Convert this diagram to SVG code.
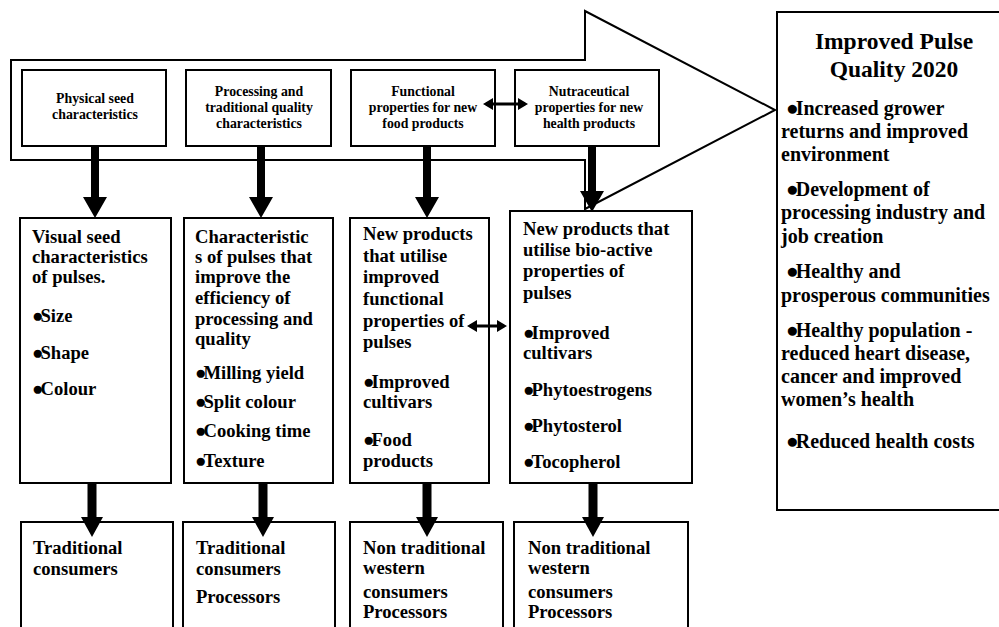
<svg xmlns="http://www.w3.org/2000/svg" width="999" height="627" viewBox="0 0 999 627">
<style>
.box{fill:#fff;stroke:#000;stroke-width:2}
.band{fill:none;stroke:#000;stroke-width:2;stroke-linejoin:miter}
.t{font-family:"Liberation Serif","Times New Roman",serif;font-weight:bold;fill:#000}
.top{font-size:13.8px;text-anchor:middle}
.mid{font-size:18.6px}
.rt{font-size:20px}
.ttl{font-size:23.5px;text-anchor:middle}
.b{font-size:19px;letter-spacing:-3px}
.rb{font-size:21px;letter-spacing:-3px}
.arr{fill:#000;stroke:none}
</style>
<rect width="999" height="627" fill="#fff"/>

<g id="pipeline-arrow">
<polygon class="band" points="11,60 585,60 585,11 775,110 585,209 585,160 11,160"/>
</g>

<g id="top-physical">
<rect class="box" x="22" y="70" width="144" height="76"/>
<text class="t top" x="95" y="103">Physical seed</text>
<text class="t top" x="95" y="119">characteristics</text>
</g>
<g id="top-processing">
<rect class="box" x="186" y="70" width="145" height="76"/>
<text class="t top" x="259" y="96">Processing and</text>
<text class="t top" x="259" y="112">traditional quality</text>
<text class="t top" x="259" y="128">characteristics</text>
</g>
<g id="top-functional">
<rect class="box" x="351" y="70" width="144" height="76"/>
<text class="t top" x="423" y="96">Functional</text>
<text class="t top" x="423" y="112">properties for new</text>
<text class="t top" x="423" y="128">food products</text>
</g>
<g id="top-nutraceutical">
<rect class="box" x="515" y="70" width="144" height="76"/>
<text class="t top" x="589" y="96">Nutraceutical</text>
<text class="t top" x="589" y="112">properties for new</text>
<text class="t top" x="589" y="128">health products</text>
</g>

<g id="goal">
<rect class="box" x="777" y="12" width="240" height="498"/>
<text class="t ttl" x="894" y="49">Improved Pulse</text>
<text class="t ttl" x="894" y="77">Quality 2020</text>
<text class="t rt" x="786" y="115"><tspan class="rb">●</tspan>Increased grower</text>
<text class="t rt" x="781" y="138">returns and improved</text>
<text class="t rt" x="781" y="161">environment</text>
<text class="t rt" x="786" y="196"><tspan class="rb">●</tspan>Development of</text>
<text class="t rt" x="781" y="219">processing industry and</text>
<text class="t rt" x="781" y="243">job creation</text>
<text class="t rt" x="786" y="278"><tspan class="rb">●</tspan>Healthy and</text>
<text class="t rt" x="781" y="302">prosperous communities</text>
<text class="t rt" x="786" y="337"><tspan class="rb">●</tspan>Healthy population -</text>
<text class="t rt" x="781" y="360">reduced heart disease,</text>
<text class="t rt" x="781" y="383">cancer and improved</text>
<text class="t rt" x="781" y="406">women’s health</text>
<text class="t rt" x="786" y="448"><tspan class="rb">●</tspan>Reduced health costs</text>
</g>

<g id="mid-visual">
<rect class="box" x="20" y="218" width="151" height="265"/>
<text class="t mid" x="32" y="243">Visual seed</text>
<text class="t mid" x="32" y="263">characteristics</text>
<text class="t mid" x="32" y="283">of pulses.</text>
<text class="t mid" x="32" y="322"><tspan class="b">●</tspan>Size</text>
<text class="t mid" x="32" y="359"><tspan class="b">●</tspan>Shape</text>
<text class="t mid" x="32" y="395"><tspan class="b">●</tspan>Colour</text>
</g>
<g id="mid-processing">
<rect class="box" x="184" y="218" width="149" height="265"/>
<text class="t mid" x="195" y="243">Characteristic</text>
<text class="t mid" x="195" y="263">s of pulses that</text>
<text class="t mid" x="195" y="283">improve the</text>
<text class="t mid" x="195" y="304">efficiency of</text>
<text class="t mid" x="195" y="325">processing and</text>
<text class="t mid" x="195" y="345">quality</text>
<text class="t mid" x="195" y="379"><tspan class="b">●</tspan>Milling yield</text>
<text class="t mid" x="195" y="408"><tspan class="b">●</tspan>Split colour</text>
<text class="t mid" x="195" y="437"><tspan class="b">●</tspan>Cooking time</text>
<text class="t mid" x="195" y="467"><tspan class="b">●</tspan>Texture</text>
</g>
<g id="mid-functional">
<rect class="box" x="350" y="218" width="139" height="265"/>
<text class="t mid" x="363" y="240">New products</text>
<text class="t mid" x="363" y="262">that utilise</text>
<text class="t mid" x="363" y="283">improved</text>
<text class="t mid" x="363" y="305">functional</text>
<text class="t mid" x="363" y="327">properties of</text>
<text class="t mid" x="363" y="348">pulses</text>
<text class="t mid" x="363" y="388"><tspan class="b">●</tspan>Improved</text>
<text class="t mid" x="363" y="408">cultivars</text>
<text class="t mid" x="363" y="446"><tspan class="b">●</tspan>Food</text>
<text class="t mid" x="363" y="467">products</text>
</g>
<g id="mid-bioactive">
<rect class="box" x="510" y="211" width="182" height="272"/>
<text class="t mid" x="523" y="235">New products that</text>
<text class="t mid" x="523" y="256">utilise bio-active</text>
<text class="t mid" x="523" y="277">properties of</text>
<text class="t mid" x="523" y="299">pulses</text>
<text class="t mid" x="523" y="339"><tspan class="b">●</tspan>Improved</text>
<text class="t mid" x="523" y="359">cultivars</text>
<text class="t mid" x="523" y="396"><tspan class="b">●</tspan>Phytoestrogens</text>
<text class="t mid" x="523" y="432"><tspan class="b">●</tspan>Phytosterol</text>
<text class="t mid" x="523" y="468"><tspan class="b">●</tspan>Tocopherol</text>
</g>

<g id="bot-traditional">
<rect class="box" x="21" y="522" width="152" height="120"/>
<text class="t mid" x="33" y="554">Traditional</text>
<text class="t mid" x="33" y="575">consumers</text>
</g>
<g id="bot-traditional-processors">
<rect class="box" x="183" y="522" width="152" height="120"/>
<text class="t mid" x="196" y="554">Traditional</text>
<text class="t mid" x="196" y="575">consumers</text>
<text class="t mid" x="196" y="603">Processors</text>
</g>
<g id="bot-western-food">
<rect class="box" x="350" y="522" width="153" height="120"/>
<text class="t mid" x="363" y="554">Non traditional</text>
<text class="t mid" x="363" y="574">western</text>
<text class="t mid" x="363" y="598">consumers</text>
<text class="t mid" x="363" y="618">Processors</text>
</g>
<g id="bot-western-health">
<rect class="box" x="514" y="522" width="174" height="120"/>
<text class="t mid" x="528" y="554">Non traditional</text>
<text class="t mid" x="528" y="574">western</text>
<text class="t mid" x="528" y="598">consumers</text>
<text class="t mid" x="528" y="618">Processors</text>
</g>

<g id="connectors">
<polygon class="arr" points="91,146 99,146 99,197 107,197 95,218 83,197 91,197"/>
<polygon class="arr" points="257,146 265,146 265,197 273,197 261,218 249,197 257,197"/>
<polygon class="arr" points="423,146 431,146 431,197 439,197 427,218 415,197 423,197"/>
<polygon class="arr" points="588,146 596,146 596,191 604,191 592,212 580,191 588,191"/>
<polygon class="arr" points="87.5,483 96.5,483 96.5,517 103,517 92,537 81,517 87.5,517"/>
<polygon class="arr" points="258.5,483 267.5,483 267.5,517 274,517 263,537 252,517 258.5,517"/>
<polygon class="arr" points="422.5,483 431.5,483 431.5,517 438,517 427,537 416,517 422.5,517"/>
<polygon class="arr" points="588.5,483 597.5,483 597.5,517 604,517 593,537 582,517 588.5,517"/>
<polygon class="arr" points="483,104 493,98 493,102.5 518,102.5 518,98 528,104 518,110 518,105.5 493,105.5 493,110"/>
<polygon class="arr" points="467,326 477,320 477,324.5 497,324.5 497,320 507,326 497,332 497,327.5 477,327.5 477,332"/>
</g>
</svg>
